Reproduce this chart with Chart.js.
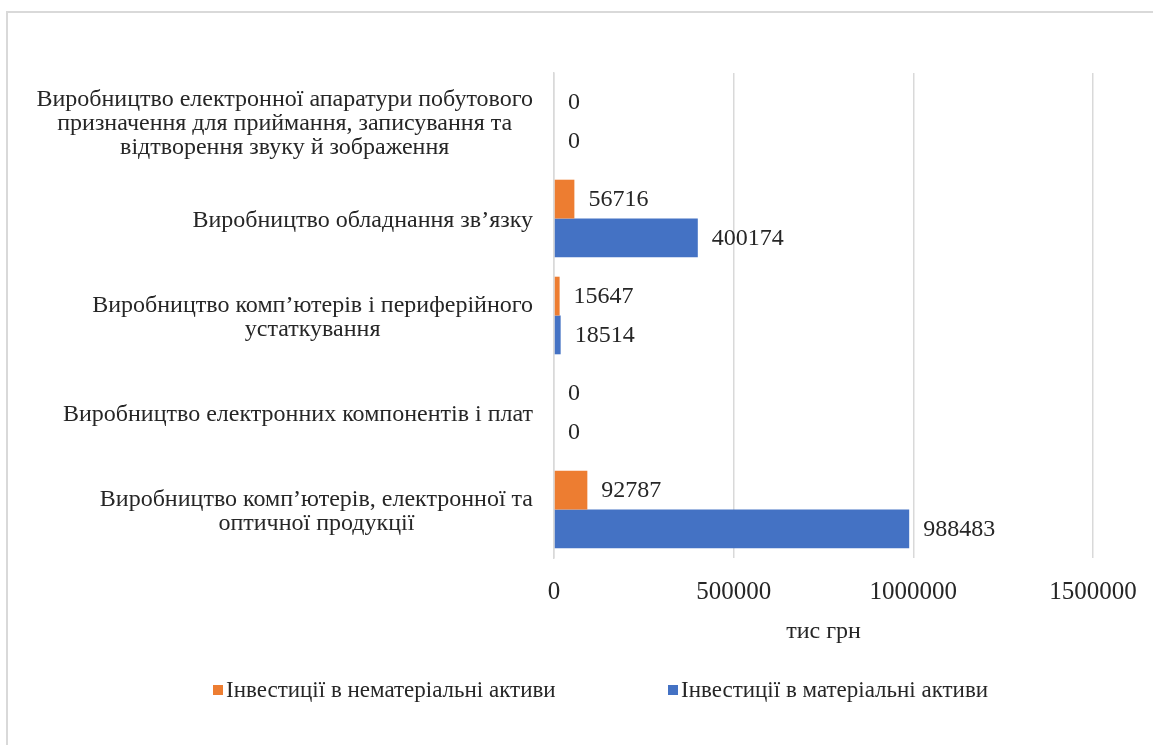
<!DOCTYPE html>
<html>
<head>
<meta charset="utf-8">
<script src="https://cdn.jsdelivr.net/npm/chart.js@4"></script>
<style>
  html, body { margin: 0; padding: 0; background: #fff; }
  body { width: 1153px; height: 745px; position: relative; overflow: hidden; }
  #frame { position: absolute; left: 6px; top: 11px; width: 1300px; height: 900px;
           border-left: 2px solid #d9d9d9; border-top: 2px solid #d9d9d9; }
  #wrap { position: absolute; left: 0; top: 0; width: 1153px; height: 745px; }
</style>
</head>
<body>
<div id="frame"></div>
<div id="wrap"><canvas id="investChart"></canvas></div>
<script>
// categories, top to bottom as shown
const categories = [
    ['Виробництво електронної апаратури побутового', 'призначення для приймання, записування та', 'відтворення звуку й зображення'],
    ['Виробництво обладнання зв’язку'],
    ['Виробництво комп’ютерів і периферійного', 'устаткування'],
    ['Виробництво електронних компонентів і плат'],
    ['Виробництво комп’ютерів, електронної та', 'оптичної продукції']
];
const intangibleLabel = 'Інвестиції в нематеріальні активи';
const tangibleLabel = 'Інвестиції в матеріальні активи';
const intangibleValues = [0, 56716, 15647, 0, 92787];
const tangibleValues = [0, 400174, 18514, 0, 988483];
const xTicks = [0, 500000, 1000000, 1500000];
const axisTitle = 'тис грн';

const FONT = "'Liberation Serif', 'Times New Roman', serif";
const TEXT = '#262626';

// category labels: block right aligned to axis, lines centred inside the block
const catLabelsPlugin = {
    id: 'catLabels',
    afterDraw(chart) {
        const ctx = chart.ctx;
        const y = chart.scales.y;
        ctx.save();
        ctx.font = '24px ' + FONT;
        ctx.fillStyle = TEXT;
        ctx.textAlign = 'center';
        ctx.textBaseline = 'middle';
        const right = chart.chartArea.left - 21;
        categories.forEach((lines, i) => {
            const cy = y.getPixelForValue(i) + 2;
            const w = Math.max(...lines.map(l => ctx.measureText(l).width));
            const cx = right - w / 2;
            const lh = 24;
            const top = cy - (lines.length - 1) * lh / 2;
            lines.forEach((l, j) => ctx.fillText(l, cx, top + j * lh));
        });
        ctx.restore();
    }
};

// values at the end of each bar
const valueLabelsPlugin = {
    id: 'valueLabels',
    afterDatasetsDraw(chart) {
        const ctx = chart.ctx;
        ctx.save();
        ctx.font = '24px ' + FONT;
        ctx.fillStyle = TEXT;
        ctx.textAlign = 'left';
        ctx.textBaseline = 'middle';
        chart.data.datasets.forEach((ds, di) => {
            const meta = chart.getDatasetMeta(di);
            meta.data.forEach((bar, i) => {
                ctx.fillText(String(ds.data[i]), bar.x + 14, bar.y + 1);
            });
        });
        ctx.restore();
    }
};

// legend with wide spacing like the original
const legendPlugin = {
    id: 'wideLegend',
    afterDraw(chart) {
        const ctx = chart.ctx;
        ctx.save();
        ctx.font = '23px ' + FONT;
        ctx.textBaseline = 'middle';
        ctx.textAlign = 'left';
        const cy = 690;
        const starts = [213, 668];
        chart.data.datasets.forEach((ds, i) => {
            const x = starts[i];
            ctx.fillStyle = ds.backgroundColor;
            ctx.fillRect(x, cy - 5, 10, 10);
            ctx.fillStyle = TEXT;
            ctx.fillText(ds.label, x + 13, cy + 1);
        });
        ctx.restore();
    }
};

const ctx = document.getElementById('investChart');
new Chart(ctx, {
    type: 'bar',
    data: {
        labels: categories.map(c => c.join(' ')),
        datasets: [{
            label: intangibleLabel,
            data: intangibleValues,
            backgroundColor: '#ED7D31',
            borderWidth: 0,
            categoryPercentage: 0.8,
            barPercentage: 1.0
        }, {
            label: tangibleLabel,
            data: tangibleValues,
            backgroundColor: '#4472C4',
            borderWidth: 0,
            categoryPercentage: 0.8,
            barPercentage: 1.0
        }]
    },
    options: {
        indexAxis: 'y',
        responsive: true,
        maintainAspectRatio: false,
        animation: false,
        layout: { padding: { left: 0, right: 60, top: 73, bottom: 95 } },
        plugins: {
            legend: { display: false },
            tooltip: { enabled: false }
        },
        scales: {
            x: {
                min: 0,
                max: 1500000,
                afterBuildTicks: (scale) => { scale.ticks = xTicks.map(v => ({ value: v })); },
                afterFit: (scale) => {
                    scale.height = 92;
                    scale.paddingLeft = 0;
                    scale.paddingRight = 0;
                },
                grid: { color: '#d9d9d9', lineWidth: 1.5, drawTicks: false },
                border: { display: false },
                ticks: {
                    padding: 19,
                    color: TEXT,
                    font: { family: FONT, size: 25 },
                    maxRotation: 0,
                    callback: (v) => String(v)
                },
                title: {
                    display: true,
                    text: axisTitle,
                    color: TEXT,
                    font: { family: FONT, size: 24 },
                    padding: { top: 0, bottom: 4 }
                }
            },
            y: {
                afterFit: (scale) => { scale.width = 554; },
                grid: { display: false, drawTicks: false },
                border: { display: true, color: '#d9d9d9', width: 1.5 },
                ticks: { display: false }
            }
        }
    },
    plugins: [catLabelsPlugin, valueLabelsPlugin, legendPlugin]
});
</script>
</body>
</html>
